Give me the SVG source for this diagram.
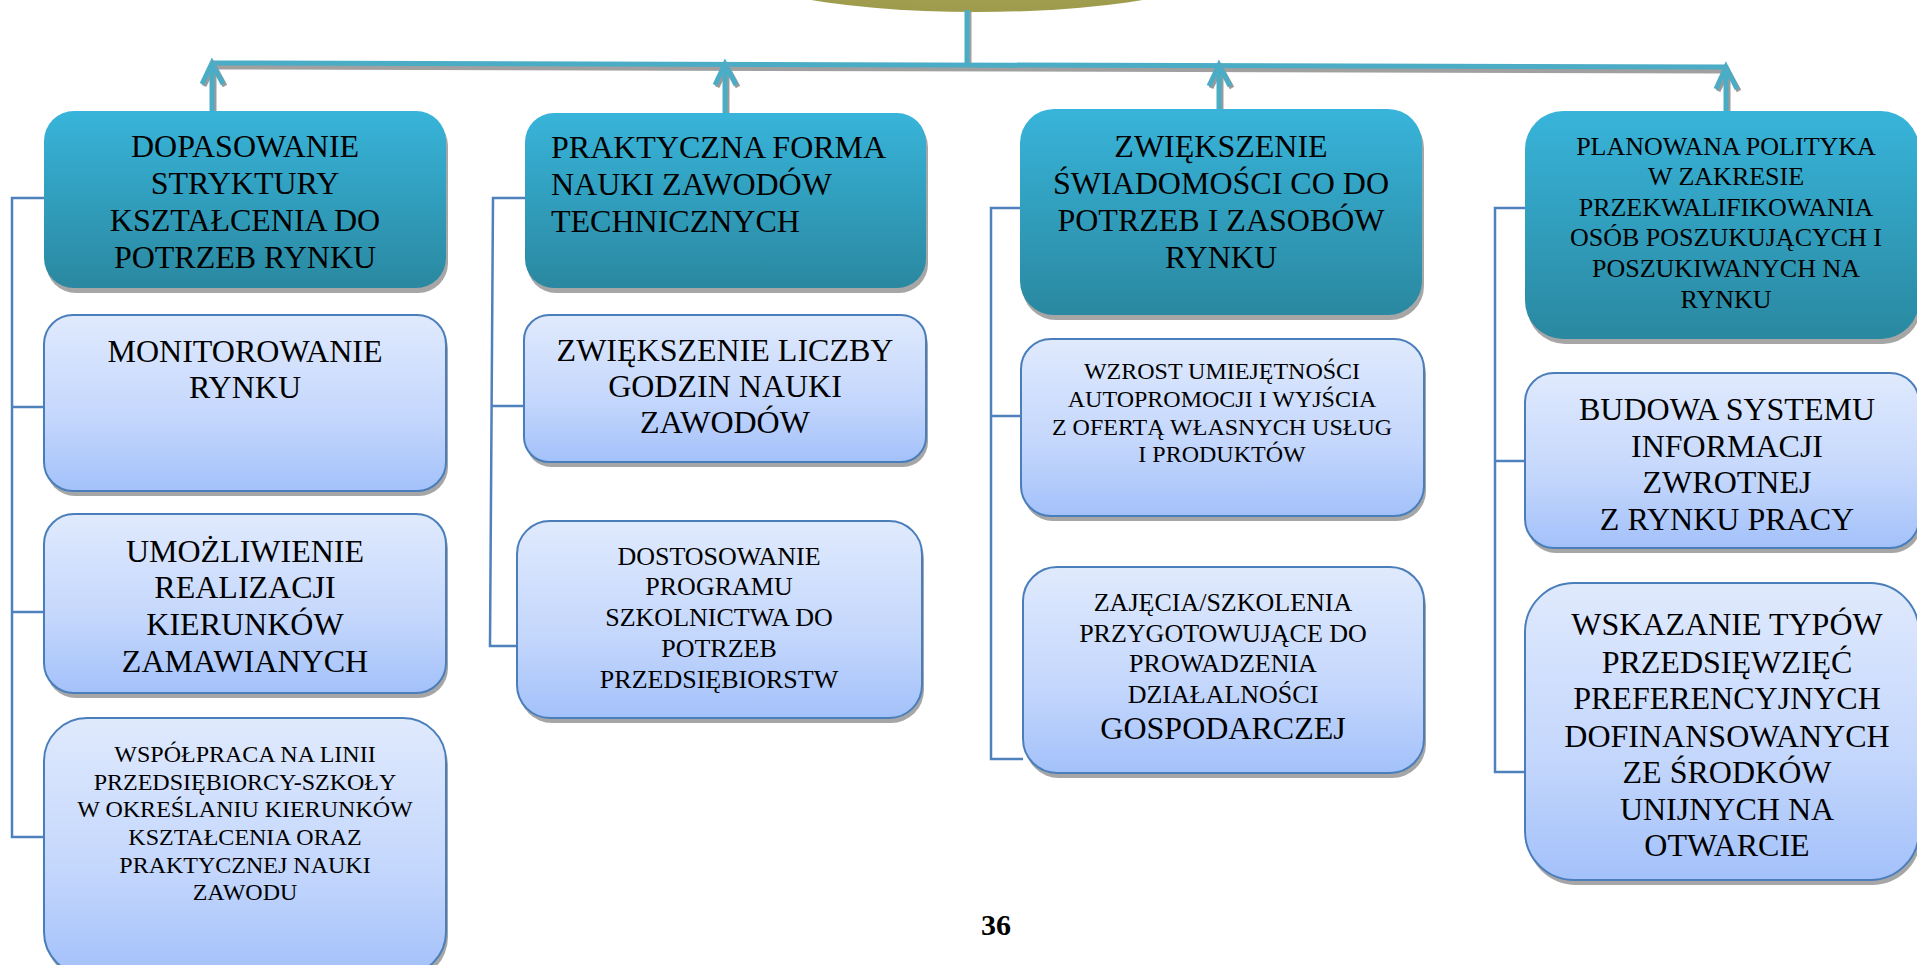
<svg xmlns="http://www.w3.org/2000/svg" width="1917" height="965" viewBox="0 0 1917 965">
<defs>
<linearGradient id="gTeal" x1="0" y1="0" x2="0" y2="1">
<stop offset="0" stop-color="#38b4da"/>
<stop offset="1" stop-color="#2a88a0"/>
</linearGradient>
<linearGradient id="gLight" x1="0" y1="0" x2="0" y2="1">
<stop offset="0" stop-color="#e0eafd"/>
<stop offset="0.6" stop-color="#c3d6fc"/>
<stop offset="1" stop-color="#a3c1fa"/>
</linearGradient>
<radialGradient id="gOlive" cx="0.5" cy="0.3" r="0.7">
<stop offset="0" stop-color="#b0ae5c"/>
<stop offset="1" stop-color="#9e9c4c"/>
</radialGradient>
</defs>
<style>
.teal{fill:url(#gTeal);stroke:none}
.light{fill:url(#gLight);stroke:#4a7ebb;stroke-width:2}
.sh{fill:#a6a6a6}
.t{font-family:"Liberation Serif","Times New Roman",serif;fill:#000;text-anchor:middle}
.tl{font-family:"Liberation Serif","Times New Roman",serif;fill:#000;text-anchor:start}
.f32{font-size:32px}
.f26{font-size:26px}
.f24{font-size:24px}
.conn{fill:none;stroke:#4f81bd;stroke-width:2.5}
.bar{fill:none;stroke:#4bacc6;stroke-width:5}
.barsh{fill:none;stroke:#a0a0a0;stroke-width:5}
.num{font-family:"Liberation Serif","Times New Roman",serif;font-weight:bold;font-size:30px;fill:#000;text-anchor:middle}
</style>

<g id="root">
<ellipse cx="977" cy="-45" rx="270" ry="57" fill="url(#gOlive)"/>
</g>

<g id="connectors">
<!-- top bar shadow -->
<line class="barsh" x1="214" y1="67" x2="1728" y2="71"/>
<line class="barsh" x1="969" y1="12" x2="969" y2="68"/>
<!-- top bar -->
<line class="bar" x1="212" y1="63" x2="1726" y2="67"/>
<line class="bar" x1="967" y1="10" x2="967" y2="66"/>
<!-- arrow shadows -->
<g stroke="#9a9a9a" stroke-width="5" fill="none" stroke-linejoin="miter">
<polyline points="204,86 214,66 225,86"/>
<line x1="214" y1="70" x2="214" y2="113"/>
<polyline points="717,87 727,67 738,87"/>
<line x1="727" y1="71" x2="727" y2="115"/>
<polyline points="1211,88 1221,68 1232,88"/>
<line x1="1221" y1="72" x2="1221" y2="111"/>
<polyline points="1718,91 1728,71 1739,91"/>
<line x1="1728" y1="75" x2="1728" y2="113"/>
</g>
<!-- arrows -->
<g stroke="#4bacc6" stroke-width="5" fill="none" stroke-linejoin="miter">
<polyline points="202,84 212,63 223,84"/>
<line x1="212" y1="66" x2="212" y2="111"/>
<polyline points="715,85 725,64 736,85"/>
<line x1="725" y1="67" x2="725" y2="113"/>
<polyline points="1209,86 1219,65 1230,86"/>
<line x1="1219" y1="68" x2="1219" y2="109"/>
<polyline points="1716,89 1726,67 1737,89"/>
<line x1="1726" y1="71" x2="1726" y2="111"/>
</g>
<!-- side connectors -->
<polyline class="conn" points="44,198 12,198 12,837 44,837"/>
<line class="conn" x1="12" y1="407" x2="44" y2="407"/>
<line class="conn" x1="12" y1="612" x2="44" y2="612"/>
<polyline class="conn" points="525,198 493,198 490,646 517,646"/>
<line class="conn" x1="492" y1="406" x2="524" y2="406"/>
<polyline class="conn" points="1020,208 991,208 991,759 1023,759"/>
<line class="conn" x1="991" y1="416" x2="1021" y2="416"/>
<polyline class="conn" points="1525,208 1495,208 1495,772 1525,772"/>
<line class="conn" x1="1495" y1="461" x2="1525" y2="461"/>
</g>

<g id="n1">
<rect class="sh" x="46" y="116" width="402" height="177" rx="30"/>
<rect class="teal" x="44" y="111" width="402" height="177" rx="30"/>
<text class="t f32" x="245"><tspan x="245" y="157">DOPASOWANIE</tspan><tspan x="245" y="194">STRYKTURY</tspan><tspan x="245" y="231">KSZTAŁCENIA DO</tspan><tspan x="245" y="268">POTRZEB RYNKU</tspan></text>
</g>
<g id="n2">
<rect class="sh" x="527" y="118" width="401" height="175" rx="29"/>
<rect class="teal" x="525" y="113" width="401" height="175" rx="29"/>
<text class="tl f32"><tspan x="551" y="158">PRAKTYCZNA FORMA</tspan><tspan x="551" y="195">NAUKI ZAWODÓW</tspan><tspan x="551" y="232">TECHNICZNYCH</tspan></text>
</g>
<g id="n3">
<rect class="sh" x="1022" y="114" width="402" height="206" rx="34"/>
<rect class="teal" x="1020" y="109" width="402" height="206" rx="34"/>
<text class="t f32"><tspan x="1221" y="157">ZWIĘKSZENIE</tspan><tspan x="1221" y="194">ŚWIADOMOŚCI CO DO</tspan><tspan x="1221" y="231">POTRZEB I ZASOBÓW</tspan><tspan x="1221" y="268">RYNKU</tspan></text>
</g>
<g id="n4">
<rect class="sh" x="1527" y="116" width="394" height="228" rx="38"/>
<rect class="teal" x="1525" y="111" width="394" height="228" rx="38"/>
<text class="t f26"><tspan x="1726" y="155">PLANOWANA POLITYKA</tspan><tspan x="1726" y="185">W ZAKRESIE</tspan><tspan x="1726" y="216">PRZEKWALIFIKOWANIA</tspan><tspan x="1726" y="246">OSÓB POSZUKUJĄCYCH I</tspan><tspan x="1726" y="277">POSZUKIWANYCH NA</tspan><tspan x="1726" y="308">RYNKU</tspan></text>
</g>

<g id="n1b">
<rect class="sh" x="46" y="320" width="402" height="176" rx="29"/>
<rect class="light" x="44" y="315" width="402" height="176" rx="29"/>
<text class="t f32"><tspan x="245" y="362">MONITOROWANIE</tspan><tspan x="245" y="398">RYNKU</tspan></text>
</g>
<g id="n1c">
<rect class="sh" x="46" y="519" width="402" height="179" rx="30"/>
<rect class="light" x="44" y="514" width="402" height="179" rx="30"/>
<text class="t f32"><tspan x="245" y="562">UMOŻLIWIENIE</tspan><tspan x="245" y="598">REALIZACJI</tspan><tspan x="245" y="635">KIERUNKÓW</tspan><tspan x="245" y="672">ZAMAWIANYCH</tspan></text>
</g>
<g id="n1d">
<rect class="sh" x="46" y="723" width="402" height="257" rx="43"/>
<rect class="light" x="44" y="718" width="402" height="257" rx="43"/>
<text class="t f24"><tspan x="245" y="762">WSPÓŁPRACA NA LINII</tspan><tspan x="245" y="790">PRZEDSIĘBIORCY-SZKOŁY</tspan><tspan x="245" y="817">W OKREŚLANIU KIERUNKÓW</tspan><tspan x="245" y="845">KSZTAŁCENIA ORAZ</tspan><tspan x="245" y="873">PRAKTYCZNEJ NAUKI</tspan><tspan x="245" y="900">ZAWODU</tspan></text>
</g>

<g id="n2b">
<rect class="sh" x="526" y="320" width="402" height="147" rx="25"/>
<rect class="light" x="524" y="315" width="402" height="147" rx="25"/>
<text class="t f32"><tspan x="725" y="361">ZWIĘKSZENIE LICZBY</tspan><tspan x="725" y="397">GODZIN NAUKI</tspan><tspan x="725" y="433">ZAWODÓW</tspan></text>
</g>
<g id="n2c">
<rect class="sh" x="519" y="526" width="405" height="197" rx="33"/>
<rect class="light" x="517" y="521" width="405" height="197" rx="33"/>
<text class="t f26"><tspan x="719" y="565">DOSTOSOWANIE</tspan><tspan x="719" y="595">PROGRAMU</tspan><tspan x="719" y="626">SZKOLNICTWA DO</tspan><tspan x="719" y="657">POTRZEB</tspan><tspan x="719" y="688">PRZEDSIĘBIORSTW</tspan></text>
</g>

<g id="n3b">
<rect class="sh" x="1023" y="344" width="403" height="177" rx="30"/>
<rect class="light" x="1021" y="339" width="403" height="177" rx="30"/>
<text class="t f24"><tspan x="1222" y="379">WZROST UMIEJĘTNOŚCI</tspan><tspan x="1222" y="407">AUTOPROMOCJI I WYJŚCIA</tspan><tspan x="1222" y="435">Z OFERTĄ WŁASNYCH USŁUG</tspan><tspan x="1222" y="462">I PRODUKTÓW</tspan></text>
</g>
<g id="n3c">
<rect class="sh" x="1025" y="572" width="401" height="206" rx="34"/>
<rect class="light" x="1023" y="567" width="401" height="206" rx="34"/>
<text class="t f26"><tspan x="1223" y="611">ZAJĘCIA/SZKOLENIA</tspan><tspan x="1223" y="642">PRZYGOTOWUJĄCE DO</tspan><tspan x="1223" y="672">PROWADZENIA</tspan><tspan x="1223" y="703">DZIAŁALNOŚCI</tspan><tspan class="f32" x="1223" y="739">GOSPODARCZEJ</tspan></text>
</g>

<g id="n4b">
<rect class="sh" x="1527" y="378" width="394" height="175" rx="29"/>
<rect class="light" x="1525" y="373" width="394" height="175" rx="29"/>
<text class="t f32"><tspan x="1727" y="420">BUDOWA SYSTEMU</tspan><tspan x="1727" y="457">INFORMACJI</tspan><tspan x="1727" y="493">ZWROTNEJ</tspan><tspan x="1727" y="530">Z RYNKU PRACY</tspan></text>
</g>
<g id="n4c">
<rect class="sh" x="1527" y="588" width="394" height="297" rx="49"/>
<rect class="light" x="1525" y="583" width="394" height="297" rx="49"/>
<text class="t f32"><tspan x="1727" y="635">WSKAZANIE TYPÓW</tspan><tspan x="1727" y="673">PRZEDSIĘWZIĘĆ</tspan><tspan x="1727" y="709">PREFERENCYJNYCH</tspan><tspan x="1727" y="747">DOFINANSOWANYCH</tspan><tspan x="1727" y="783">ZE ŚRODKÓW</tspan><tspan x="1727" y="820">UNIJNYCH NA</tspan><tspan x="1727" y="856">OTWARCIE</tspan></text>
</g>

<text class="num" x="996" y="935">36</text>
</svg>
